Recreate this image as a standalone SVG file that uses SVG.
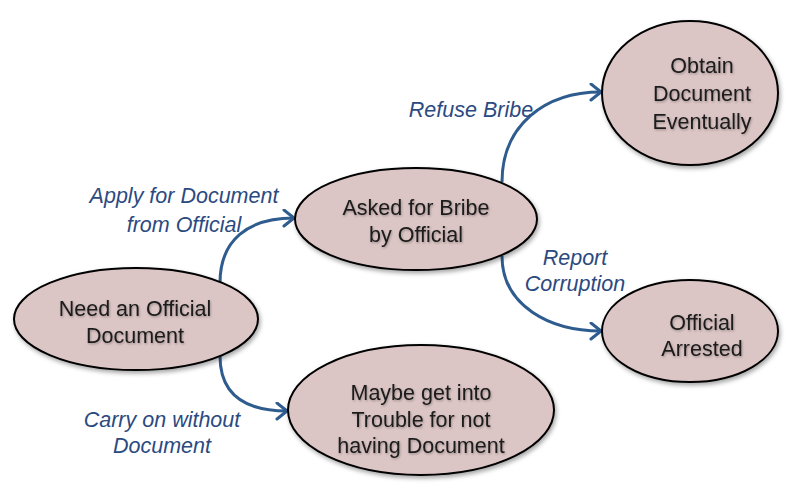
<svg xmlns="http://www.w3.org/2000/svg" width="792" height="485" viewBox="0 0 792 485">
  <defs>
    <filter id="sh" x="-10%" y="-10%" width="125%" height="130%">
      <feDropShadow dx="1.5" dy="2.5" stdDeviation="2" flood-color="#000" flood-opacity="0.35"/>
    </filter>
    <filter id="tsh" x="-5%" y="-20%" width="110%" height="150%">
      <feDropShadow dx="0.8" dy="1.2" stdDeviation="0.8" flood-color="#000" flood-opacity="0.3"/>
    </filter>
    <marker id="arr" markerUnits="userSpaceOnUse" markerWidth="16" markerHeight="20" refX="12" refY="9" orient="auto" viewBox="0 0 16 20">
      <path d="M2,1 L12,9 L2,17" fill="none" stroke="#2f5c8f" stroke-width="3" stroke-linecap="round" stroke-linejoin="round"/>
    </marker>
  </defs>
  <style>
    .node ellipse { fill: #dcc5c5; stroke: #000; stroke-width: 2; filter: url(#sh); }
    .node text { font-family: "Liberation Sans", Arial, sans-serif; font-size: 21.5px; fill: #1a1a1a; text-anchor: middle; filter: url(#tsh); }
    .conn path { fill: none; stroke: #2f5c8f; stroke-width: 3; marker-end: url(#arr); }
    .lbl { font-family: "Liberation Sans", Arial, sans-serif; font-size: 21.5px; font-style: italic; fill: #2b4a80; text-anchor: middle; }
  </style>
  <rect width="792" height="485" fill="#fff"/>

  <g id="connectors" class="conn">
    <path d="M220,283 C220,240 248,218 294,218"/>
    <path d="M220,356 C220,396 246,411 287,411"/>
    <path d="M502,182 C502,125 545,92 601,92"/>
    <path d="M502,256 C502,306 550,331 601,331"/>
  </g>

  <g id="labels">
    <text class="lbl" x="184" y="203">Apply for Document</text>
    <text class="lbl" x="184" y="232">from Official</text>
    <text class="lbl" x="471" y="117">Refuse Bribe</text>
    <text class="lbl" x="575" y="265">Report</text>
    <text class="lbl" x="575" y="291">Corruption</text>
    <text class="lbl" x="162" y="427">Carry on without</text>
    <text class="lbl" x="162" y="453">Document</text>
  </g>

  <g id="node-need" class="node">
    <ellipse cx="136" cy="319" rx="122" ry="51"/>
    <text x="135" y="316">Need an Official</text>
    <text x="135" y="343">Document</text>
  </g>
  <g id="node-asked" class="node">
    <ellipse cx="416" cy="219" rx="121" ry="51"/>
    <text x="416" y="215">Asked for Bribe</text>
    <text x="416" y="242">by Official</text>
  </g>
  <g id="node-obtain" class="node">
    <ellipse cx="690" cy="93" rx="88" ry="72"/>
    <text x="702" y="73">Obtain</text>
    <text x="702" y="101">Document</text>
    <text x="702" y="129">Eventually</text>
  </g>
  <g id="node-arrested" class="node">
    <ellipse cx="690" cy="331" rx="88" ry="51"/>
    <text x="702" y="330">Official</text>
    <text x="702" y="356">Arrested</text>
  </g>
  <g id="node-trouble" class="node">
    <ellipse cx="421" cy="410" rx="133" ry="65"/>
    <text x="421" y="400">Maybe get into</text>
    <text x="421" y="427">Trouble for not</text>
    <text x="421" y="453">having Document</text>
  </g>
</svg>
